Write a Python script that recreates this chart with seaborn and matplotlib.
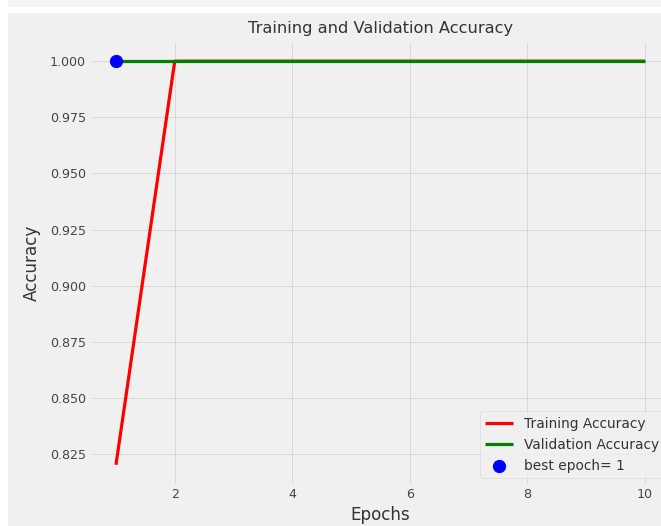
import matplotlib
matplotlib.use("Agg")
import matplotlib.pyplot as plt
import seaborn as sns
from matplotlib.patches import Rectangle

# data
epochs = [1, 2, 3, 4, 5, 6, 7, 8, 9, 10]
train_acc = [0.8203, 1.0, 1.0, 1.0, 1.0, 1.0, 1.0, 1.0, 1.0, 1.0]
val_acc = [1.0, 1.0, 1.0, 1.0, 1.0, 1.0, 1.0, 1.0, 1.0, 1.0]
best_epoch = 1
best_acc = 1.0

plt.style.use("fivethirtyeight")
plt.rcParams["grid.color"] = "#d9d9d9"
plt.rcParams["text.color"] = "#333333"
plt.rcParams["axes.labelcolor"] = "#333333"
plt.rcParams["xtick.color"] = "#444444"
plt.rcParams["ytick.color"] = "#444444"

dpi = 72
fig = plt.figure(figsize=(661 / dpi, 526 / dpi), dpi=dpi)
fig.patch.set_facecolor("white")

# background panels (the figure is a crop of a bigger one)
W, H = 661, 526
fig.patches.append(Rectangle((8 / W, 1 - 7 / H), 1, 7 / H, transform=fig.transFigure,
                             facecolor="#f4f4f4", edgecolor="none", zorder=-10))
fig.patches.append(Rectangle((8 / W, 0), 1, 1 - 13 / H, transform=fig.transFigure,
                             facecolor="#f0f0f0", edgecolor="none", zorder=-10))

ax = fig.add_axes([89.5 / W, 1 - 485 / H, 582 / W, 444 / H])

sns.lineplot(x=epochs, y=train_acc, color="r", linewidth=3.2, label="Training Accuracy", ax=ax)
sns.lineplot(x=epochs, y=val_acc, color="g", linewidth=3.2, label="Validation Accuracy", ax=ax)
sns.scatterplot(x=[best_epoch], y=[best_acc], s=150, color="blue", edgecolor="blue",
                label=f"best epoch= {best_epoch}", ax=ax, zorder=5)

ax.set_title("Training and Validation Accuracy", fontsize=16.2, pad=8)
ax.set_xlabel("Epochs", fontsize=16.8, labelpad=4)
ax.set_ylabel("Accuracy", fontsize=16.8, labelpad=9)
ax.tick_params(labelsize=12.6)
ax.legend(loc="lower right", fontsize=13.8)

fig.savefig("out.png", dpi=dpi)
